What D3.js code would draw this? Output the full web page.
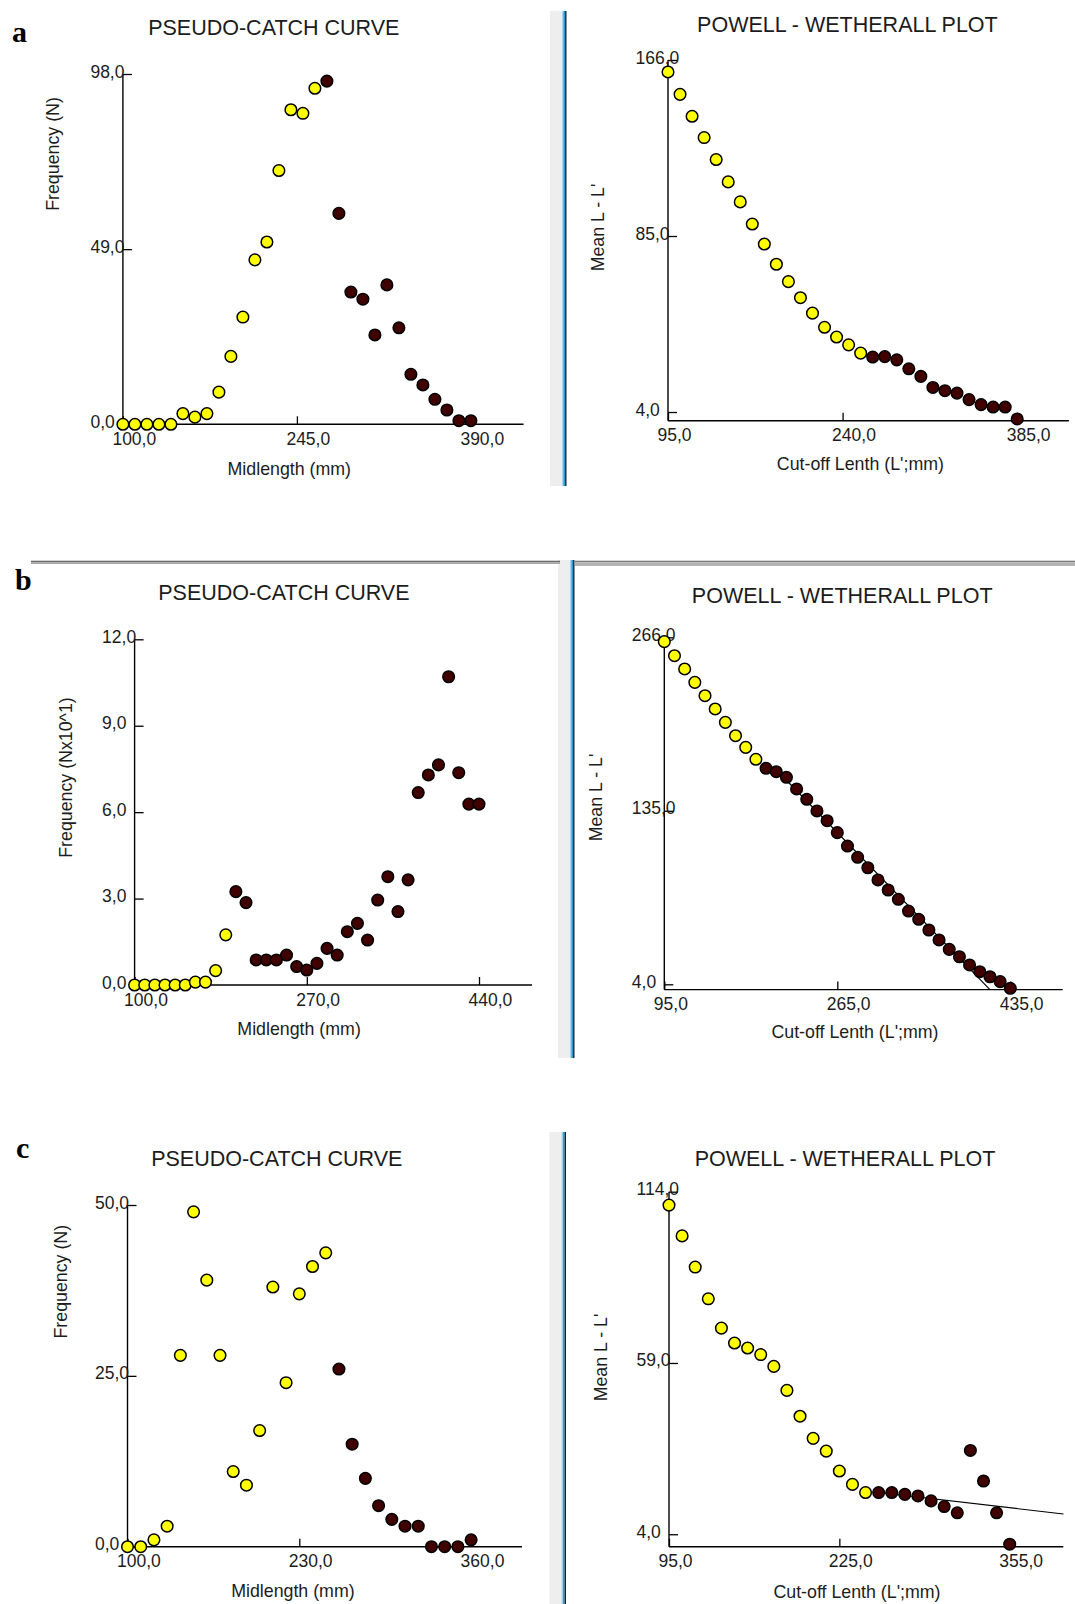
<!DOCTYPE html>
<html>
<head>
<meta charset="utf-8">
<title>Pseudo-catch curves and Powell-Wetherall plots</title>
<script src="https://d3js.org/d3.v7.min.js"></script>
<style>
  html, body { margin: 0; padding: 0; background: #fff; }
  svg text { font-family: "Liberation Sans", Arial, sans-serif; fill: #1c1c1c; }
  .letter { font-family: "Liberation Serif", "Times New Roman", serif !important; font-weight: bold; fill: #000 !important; }
</style>
</head>
<body>
<svg id="fig" width="1075" height="1604"></svg>
<script>
// ---- panel a ----
const aCatchLen = [100,110,120,130,140,150,160,170,180,190,200,210,220,230,240,250,260,270,280,290,300,310,320,330,340,350,360,370,380,390];
const aCatchN   = [0,0,0,0,0,3,2,3,9,19,30,46,51,71,88,87,94,96,59,37,35,25,39,27,14,11,7,4,1,1];
const aCatchFit = 270;            // first length used in the fit (dark points)
const aCatchXTicks = [100,245,390];
const aCatchYTicks = [0,49,98];

const aPwLen  = [95,105,115,125,135,145,155,165,175,185,195,205,215,225,235,245,255,265,275,285,295,305,315,325,335,345,355,365,375,385];
const aPwMean = [160.5,150.2,140.1,130.3,120.2,109.9,100.7,90.5,81.3,72,64,56.6,49.5,43,38.5,34.9,31.1,29.3,29.5,28,23.9,20.4,15.3,13.8,12.7,9.7,7.4,6.3,6.3,0.8];
const aPwFit = 265;
const aPwXTicks = [95,240,385];
const aPwYTicks = [4,85,166];

// ---- panel b ----
const bCatchLen = [100,110,120,130,140,150,160,170,180,190,200,210,220,230,240,250,260,270,280,290,300,310,320,330,340,350,360,370,380,390,400,410,420,430,440];
const bCatchN   = [0,0,0,0,0,0,0.1,0.1,0.5,1.74,3.24,2.86,0.87,0.87,0.87,1.04,0.64,0.52,0.75,1.27,1.04,1.85,2.14,1.56,2.95,3.76,2.55,3.65,6.68,7.29,7.64,10.7,7.37,6.28,6.28];
const bCatchFit = 200;
const bCatchXTicks = [100,270,440];
const bCatchYTicks = [0,3,6,9,12];

const bPwLen  = [95,105,115,125,135,145,155,165,175,185,195,205,215,225,235,245,255,265,275,285,295,305,315,325,335,345,355,365,375,385,395,405,415,425,435];
const bPwMean = [262.7,252.1,242.1,232,221.9,211.9,201.8,191.7,182.9,173.9,167.1,164.5,160.3,151.5,143.7,134.9,127.5,118.5,108.4,99.9,92,82.8,75.2,68.2,59.3,53.1,45,37.5,30.4,24.8,18.6,13.5,9.7,6,1];
const bPwFit = 195;
const bPwXTicks = [95,265,435];
const bPwYTicks = [4,135,266];
const bPwLineX = [205,415];
const bPwLineY = [166,0];

// ---- panel c ----
const cCatchLen = [100,110,120,130,140,150,160,170,180,190,200,210,220,230,240,250,260,270,280,290,300,310,320,330,340,350,360];
const cCatchN   = [0,0,1,3,28,49,39,28,11,9,17,38,24,37,41,43,26,15,10,6,4,3,3,0,0,0,1];
const cCatchFit = 260;
const cCatchXTicks = [100,230,360];
const cCatchYTicks = [0,25,50];

const cPwLen  = [95,105,115,125,135,145,155,165,175,185,195,205,215,225,235,245,255,265,275,285,295,305,315,325,335,345,355];
const cPwMean = [109.7,99.8,89.8,79.6,70.2,65.4,63.8,61.7,57.9,50.2,41.9,34.8,30.7,24.3,20,17.4,17.4,17.4,16.8,16.3,14.7,12.9,10.9,30.9,21.1,10.9,0.8];
const cPwFit = 255;
const cPwXTicks = [95,225,355];
const cPwYTicks = [4,59,114];
const cPwLineX = [255,396];
const cPwLineY = [17.4,10.5];

const catchTitle = "PSEUDO-CATCH CURVE";
const pwTitle = "POWELL - WETHERALL PLOT";
const catchXLabel = "Midlength (mm)";
const pwXLabel = "Cut-off Lenth (L';mm)";
const pwYLabel = "Mean L - L'";

// layout: box = pixel positions of axis origin / last ticks
const panels = [
  { xs: aCatchLen, ys: aCatchN, fit: aCatchFit, xTicks: aCatchXTicks, yTicks: aCatchYTicks,
    title: catchTitle, xLabel: catchXLabel, yLabel: "Frequency (N)",
    box: { x0: 122.9, x1: 470.9, xEnd: 523.5, y0: 424.3, y1: 74 },
    titlePos: [273.8, 35], xLabPos: [289.3, 475], yLabPos: [53.4, 154] },
  { xs: aPwLen, ys: aPwMean, fit: aPwFit, xTicks: aPwXTicks, yTicks: aPwYTicks,
    title: pwTitle, xLabel: pwXLabel, yLabel: pwYLabel,
    box: { x0: 668, x1: 1017.2, xEnd: 1068.9, y0: 420.7, y1: 60 },
    titlePos: [847.4, 32], xLabPos: [860.4, 470], yLabPos: [598, 227.5] },
  { xs: bCatchLen, ys: bCatchN, fit: bCatchFit, xTicks: bCatchXTicks, yTicks: bCatchYTicks,
    title: catchTitle, xLabel: catchXLabel, yLabel: "Frequency (Nx10^1)",
    box: { x0: 134.6, x1: 479, xEnd: 532, y0: 985, y1: 639.3 },
    titlePos: [283.9, 600], xLabPos: [299.1, 1035], yLabPos: [66.1, 777.5] },
  { xs: bPwLen, ys: bPwMean, fit: bPwFit, xTicks: bPwXTicks, yTicks: bPwYTicks,
    title: pwTitle, xLabel: pwXLabel, yLabel: pwYLabel, line: [bPwLineX, bPwLineY],
    box: { x0: 664.3, x1: 1010.3, xEnd: 1062.7, y0: 989.6, y1: 637.3 },
    titlePos: [842.2, 603], xLabPos: [855, 1038], yLabPos: [595.7, 797.5] },
  { xs: cCatchLen, ys: cCatchN, fit: cCatchFit, xTicks: cCatchXTicks, yTicks: cCatchYTicks,
    title: catchTitle, xLabel: catchXLabel, yLabel: "Frequency (N)",
    box: { x0: 127.5, x1: 471.1, xEnd: 522, y0: 1546.7, y1: 1205 },
    titlePos: [276.8, 1166], xLabPos: [292.9, 1597], yLabPos: [60.7, 1281.7] },
  { xs: cPwLen, ys: cPwMean, fit: cPwFit, xTicks: cPwXTicks, yTicks: cPwYTicks,
    title: pwTitle, xLabel: pwXLabel, yLabel: pwYLabel, line: [cPwLineX, cPwLineY],
    box: { x0: 669, x1: 1009.7, xEnd: 1063.3, y0: 1546.7, y1: 1191.7 },
    titlePos: [845, 1166], xLabPos: [857, 1598], yLabPos: [600.8, 1357.5] }
];

const fmt = d3.formatLocale({ decimal: ",", thousands: ".", grouping: [3], currency: ["", ""] }).format(".1f");
const svg = d3.select("#fig");

// window frame separators (screenshot borders)
function vSep(x, top, bottom) {
  svg.append("rect").attr("x", x - 12).attr("y", top).attr("width", 12).attr("height", bottom - top).attr("fill", "#eeeeee");
  svg.append("rect").attr("x", x).attr("y", top).attr("width", 1.3).attr("height", bottom - top).attr("fill", "#a8d4ec");
  svg.append("rect").attr("x", x + 1.3).attr("y", top).attr("width", 1.8).attr("height", bottom - top).attr("fill", "#2a9ad0");
  svg.append("rect").attr("x", x + 3.1).attr("y", top).attr("width", 1.4).attr("height", bottom - top).attr("fill", "#13222f");
}
vSep(562, 11, 486);
vSep(570, 560, 1058);
vSep(561.5, 1132, 1604);
svg.append("rect").attr("x", 31).attr("y", 560.7).attr("width", 529).attr("height", 1.4).attr("fill", "#6e6e6e");
svg.append("rect").attr("x", 31).attr("y", 562.1).attr("width", 529).attr("height", 1.9).attr("fill", "#a8a8a8");
svg.append("rect").attr("x", 575).attr("y", 560.7).attr("width", 500).attr("height", 1.5).attr("fill", "#7a7a7a");
svg.append("rect").attr("x", 575).attr("y", 562.2).attr("width", 500).attr("height", 3.8).attr("fill", "#b4b4b4");

// panel letters
[["a", 12, 41.7], ["b", 15, 590], ["c", 16, 1158.3]].forEach(([t, x, y]) => {
  svg.append("text").attr("class", "letter").attr("x", x).attr("y", y).attr("font-size", 30).text(t);
});

panels.forEach(p => {
  const b = p.box;
  const x = d3.scaleLinear().domain([p.xTicks[0], p.xTicks[p.xTicks.length - 1]]).range([b.x0, b.x1]);
  const y = d3.scaleLinear().domain([0, p.yTicks[p.yTicks.length - 1]]).range([b.y0, b.y1]);
  const g = svg.append("g");

  // axis lines
  g.append("line").attr("x1", b.x0).attr("x2", b.xEnd).attr("y1", b.y0).attr("y2", b.y0)
    .attr("stroke", "#000").attr("stroke-width", 1.4);
  g.append("line").attr("x1", b.x0).attr("x2", b.x0).attr("y1", b.y0).attr("y2", y(p.yTicks[p.yTicks.length - 1]))
    .attr("stroke", "#000").attr("stroke-width", 1.4);

  // x axis ticks (inward)
  g.append("g").attr("transform", `translate(0,${b.y0})`)
    .call(d3.axisBottom(x).tickValues(p.xTicks).tickSize(-8).tickFormat(fmt))
    .call(a => a.select(".domain").remove())
    .call(a => a.selectAll("line").attr("stroke", "#000").attr("stroke-width", 1.3))
    .call(a => a.selectAll("text").attr("text-anchor", "start").attr("x", -11).attr("y", 20.5).attr("dy", null)
      .attr("font-size", 17.5).attr("fill", "#141414"))
    .attr("font-family", null).attr("font-size", null);

  // y axis ticks (inward)
  g.append("g").attr("transform", `translate(${b.x0},0)`)
    .call(d3.axisLeft(y).tickValues(p.yTicks).tickSize(-9).tickFormat(fmt))
    .call(a => a.select(".domain").remove())
    .call(a => a.selectAll("line").attr("stroke", "#000").attr("stroke-width", 1.3))
    .call(a => a.selectAll("text").attr("text-anchor", "start").attr("x", -32.5).attr("y", 3).attr("dy", null)
      .attr("font-size", 17.5).attr("fill", "#141414"))
    .attr("font-family", null).attr("font-size", null);

  // titles and labels
  g.append("text").attr("x", p.titlePos[0]).attr("y", p.titlePos[1]).attr("text-anchor", "middle")
    .attr("font-size", 21.5).attr("fill", "#0c0c0c").text(p.title);
  g.append("text").attr("x", p.xLabPos[0]).attr("y", p.xLabPos[1]).attr("text-anchor", "middle")
    .attr("font-size", 17.8).text(p.xLabel);
  g.append("text").attr("transform", `translate(${p.yLabPos[0]},${p.yLabPos[1]}) rotate(-90)`)
    .attr("text-anchor", "middle").attr("dominant-baseline", "central")
    .attr("font-size", 17.8).text(p.yLabel);

  // regression line
  if (p.line) {
    g.append("line").attr("x1", x(p.line[0][0])).attr("y1", y(p.line[1][0]))
      .attr("x2", x(p.line[0][1])).attr("y2", y(p.line[1][1]))
      .attr("stroke", "#000").attr("stroke-width", 1.2);
  }

  // points
  const pts = p.xs.map((v, i) => ({ x: v, y: p.ys[i] }));
  g.selectAll("circle").data(pts).join("circle")
    .attr("cx", d => x(d.x)).attr("cy", d => y(d.y)).attr("r", 5.8)
    .attr("fill", d => d.x >= p.fit ? "#400000" : "#ffff00")
    .attr("stroke", "#000").attr("stroke-width", 1.5);
});
</script>
</body>
</html>
